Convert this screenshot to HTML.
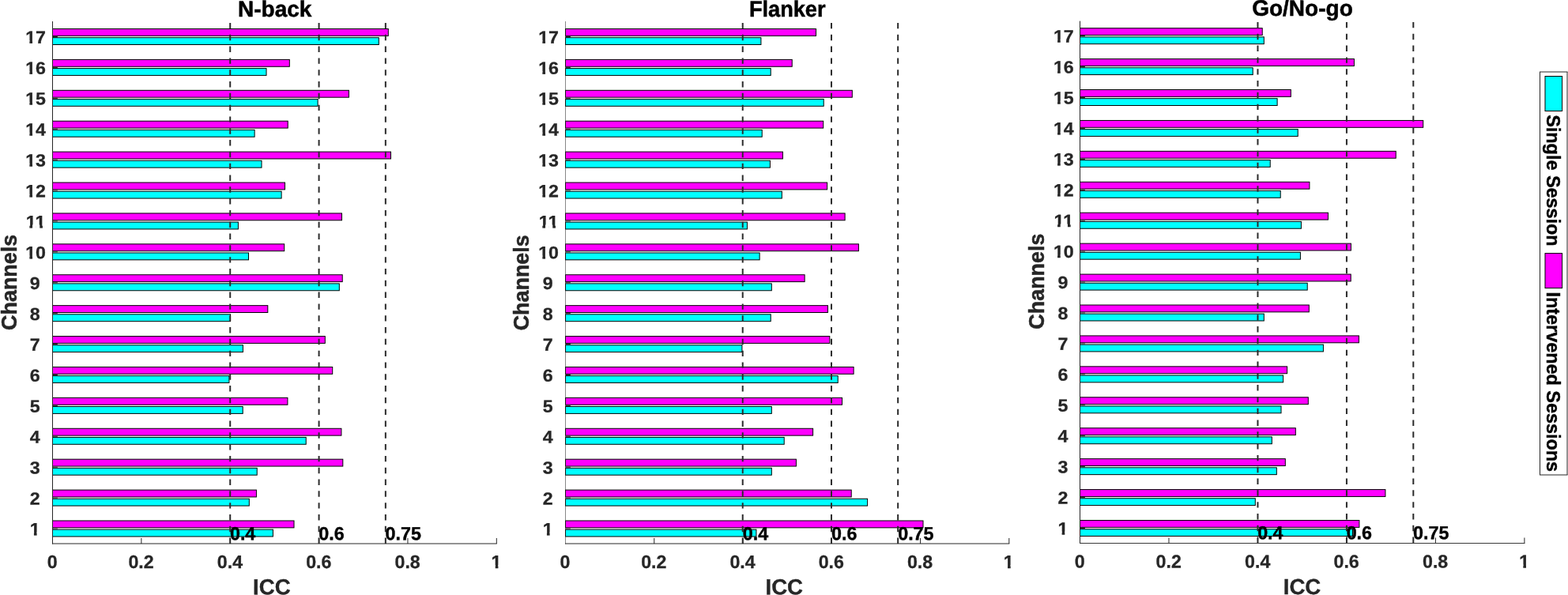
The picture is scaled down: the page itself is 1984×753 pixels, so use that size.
<!DOCTYPE html>
<html lang="en"><head><meta charset="utf-8"><title>ICC by channel</title>
<style>
html,body{margin:0;padding:0;background:#fff;}
body{width:1984px;height:753px;overflow:hidden;}
svg{display:block;}
text{font-family:"Liberation Sans",Arial,Helvetica,sans-serif;font-weight:bold;}
.tk{font-size:23.2px;fill:#262626;stroke:#262626;stroke-width:0.3px;}
.lab{font-size:27.6px;fill:#262626;stroke:#262626;stroke-width:0.35px;}
.yl{stroke-width:0.5px;}
.ttl{font-size:28.2px;fill:#000;stroke:#000;stroke-width:0.5px;}
.ann{font-size:23.3px;fill:#000;stroke:#000;stroke-width:0.4px;}
.leg{font-size:24px;fill:#000;stroke:#000;stroke-width:0.45px;}
.ax{stroke-width:1;fill:none;}
.dl{stroke:#2b2b2b;stroke-width:2;stroke-dasharray:7.4 7.41;fill:none;}
.bm{fill:#ff00ff;stroke:#000;stroke-width:1;}
.bc{fill:#00ffff;stroke:#000;stroke-width:1;}
</style></head><body>
<svg width="1984" height="753" viewBox="0 0 1984 753" role="img" aria-label="ICC per channel for N-back, Flanker and Go/No-go tasks">
<rect x="0" y="0" width="1984" height="753" fill="#fff"/>
<g>
<rect class="bm" x="66.5" y="36.5" width="424.8" height="8.85"/>
<rect class="bc" x="66.5" y="47.65" width="412.8" height="8.85"/>
<rect class="bm" x="66.5" y="75.41" width="299.8" height="8.85"/>
<rect class="bc" x="66.5" y="86.56" width="270.5" height="8.85"/>
<rect class="bm" x="66.5" y="114.32" width="374.9" height="8.85"/>
<rect class="bc" x="66.5" y="125.47" width="335.6" height="8.85"/>
<rect class="bm" x="66.5" y="153.22" width="297.7" height="8.85"/>
<rect class="bc" x="66.5" y="164.37" width="255.6" height="8.85"/>
<rect class="bm" x="66.5" y="192.13" width="428" height="8.85"/>
<rect class="bc" x="66.5" y="203.28" width="264.5" height="8.85"/>
<rect class="bm" x="66.5" y="231.03" width="294" height="8.85"/>
<rect class="bc" x="66.5" y="242.18" width="289.6" height="8.85"/>
<rect class="bm" x="66.5" y="269.94" width="366" height="8.85"/>
<rect class="bc" x="66.5" y="281.09" width="234.9" height="8.85"/>
<rect class="bm" x="66.5" y="308.85" width="293.2" height="8.85"/>
<rect class="bc" x="66.5" y="320" width="248" height="8.85"/>
<rect class="bm" x="66.5" y="347.75" width="366.7" height="8.85"/>
<rect class="bc" x="66.5" y="358.9" width="362.8" height="8.85"/>
<rect class="bm" x="66.5" y="386.66" width="272.3" height="8.85"/>
<rect class="bc" x="66.5" y="397.81" width="225" height="8.85"/>
<rect class="bm" x="66.5" y="425.56" width="344.8" height="8.85"/>
<rect class="bc" x="66.5" y="436.71" width="240.9" height="8.85"/>
<rect class="bm" x="66.5" y="464.47" width="354.2" height="8.85"/>
<rect class="bc" x="66.5" y="475.62" width="223.4" height="8.85"/>
<rect class="bm" x="66.5" y="503.38" width="297.4" height="8.85"/>
<rect class="bc" x="66.5" y="514.53" width="240.7" height="8.85"/>
<rect class="bm" x="66.5" y="542.28" width="365.4" height="8.85"/>
<rect class="bc" x="66.5" y="553.43" width="320.7" height="8.85"/>
<rect class="bm" x="66.5" y="581.19" width="367.3" height="8.85"/>
<rect class="bc" x="66.5" y="592.34" width="258.7" height="8.85"/>
<rect class="bm" x="66.5" y="620.09" width="257.9" height="8.85"/>
<rect class="bc" x="66.5" y="631.24" width="248.8" height="8.85"/>
<rect class="bm" x="66.5" y="659" width="305.5" height="8.85"/>
<rect class="bc" x="66.5" y="670.15" width="278.9" height="8.85"/>
<path class="ax" stroke="#262626" d="M66.5 27V688.5"/>
<path class="ax" stroke="#262626" d="M66 688H628.8"/>
<path class="ax" stroke="#262626" d="M178.86 688v-7M291.22 688v-7M403.58 688v-7M515.94 688v-7M628.3 688v-7M66.5 669h6.4M66.5 630.09h6.4M66.5 591.19h6.4M66.5 552.28h6.4M66.5 513.38h6.4M66.5 474.47h6.4M66.5 435.56h6.4M66.5 396.66h6.4M66.5 357.75h6.4M66.5 318.85h6.4M66.5 279.94h6.4M66.5 241.03h6.4M66.5 202.13h6.4M66.5 163.22h6.4M66.5 124.32h6.4M66.5 85.41h6.4M66.5 46.5h6.4"/>
<path class="dl" d="M291.22 688V27"/>
<path class="dl" d="M403.58 688V27"/>
<path class="dl" d="M487.85 688V27"/>
<text class="ann" transform="translate(290.92 683.3) rotate(0.03)" text-anchor="start">0.4</text>
<text class="ann" transform="translate(403.28 683.3) rotate(0.03)" text-anchor="start">0.6</text>
<text class="ann" transform="translate(487.55 683.3) rotate(0.03)" text-anchor="start">0.75</text>
<text class="tk" transform="translate(66.2 718.9) rotate(0.03)" text-anchor="middle">0</text>
<text class="tk" transform="translate(178.56 718.9) rotate(0.03)" text-anchor="middle">0.2</text>
<text class="tk" transform="translate(290.92 718.9) rotate(0.03)" text-anchor="middle">0.4</text>
<text class="tk" transform="translate(403.28 718.9) rotate(0.03)" text-anchor="middle">0.6</text>
<text class="tk" transform="translate(515.64 718.9) rotate(0.03)" text-anchor="middle">0.8</text>
<text class="tk" transform="translate(628 718.9) rotate(0.03)" text-anchor="middle">1</text>
<path fill="#fff" d="M621.86 715.08H626.72V720.15H621.86ZM630.4 715.08H634.76V720.15H630.4Z"/>
<text class="tk" transform="translate(44.2 677.3) rotate(0.03) scale(1.0 0.95)" text-anchor="middle">1</text>
<path fill="#fff" d="M38.06 673.6H42.92V678.55H38.06ZM46.6 673.6H50.96V678.55H46.6Z"/>
<text class="tk" transform="translate(44.2 638.39) rotate(0.03) scale(1.0 0.95)" text-anchor="middle">2</text>
<text class="tk" transform="translate(44.2 599.49) rotate(0.03) scale(1.0 0.95)" text-anchor="middle">3</text>
<text class="tk" transform="translate(44.2 560.58) rotate(0.03) scale(1.0 0.95)" text-anchor="middle">4</text>
<text class="tk" transform="translate(44.2 521.68) rotate(0.03) scale(1.0 0.95)" text-anchor="middle">5</text>
<text class="tk" transform="translate(44.2 482.77) rotate(0.03) scale(1.0 0.95)" text-anchor="middle">6</text>
<text class="tk" transform="translate(44.2 443.86) rotate(0.03) scale(1.0 0.95)" text-anchor="middle">7</text>
<text class="tk" transform="translate(44.2 404.96) rotate(0.03) scale(1.0 0.95)" text-anchor="middle">8</text>
<text class="tk" transform="translate(44.2 366.05) rotate(0.03) scale(1.0 0.95)" text-anchor="middle">9</text>
<text class="tk" transform="translate(45.1 327.15) rotate(0.03) scale(1.0 0.95)" text-anchor="middle">10</text>
<path fill="#fff" d="M32.51 323.45H37.37V328.4H32.51ZM41.05 323.45H45.41V328.4H41.05Z"/>
<text class="tk" transform="translate(45.1 288.24) rotate(0.03) scale(1.0 0.95)" text-anchor="middle">11</text>
<path fill="#fff" d="M32.51 284.54H37.37V289.49H32.51ZM41.05 284.54H45.41V289.49H41.05Z"/><path fill="#fff" d="M45.41 284.54H50.26V289.49H45.41ZM53.95 284.54H58.31V289.49H53.95Z"/>
<text class="tk" transform="translate(45.1 249.33) rotate(0.03) scale(1.0 0.95)" text-anchor="middle">12</text>
<path fill="#fff" d="M32.51 245.63H37.37V250.58H32.51ZM41.05 245.63H45.41V250.58H41.05Z"/>
<text class="tk" transform="translate(45.1 210.43) rotate(0.03) scale(1.0 0.95)" text-anchor="middle">13</text>
<path fill="#fff" d="M32.51 206.73H37.37V211.68H32.51ZM41.05 206.73H45.41V211.68H41.05Z"/>
<text class="tk" transform="translate(45.1 171.52) rotate(0.03) scale(1.0 0.95)" text-anchor="middle">14</text>
<path fill="#fff" d="M32.51 167.82H37.37V172.77H32.51ZM41.05 167.82H45.41V172.77H41.05Z"/>
<text class="tk" transform="translate(45.1 132.62) rotate(0.03) scale(1.0 0.95)" text-anchor="middle">15</text>
<path fill="#fff" d="M32.51 128.92H37.37V133.87H32.51ZM41.05 128.92H45.41V133.87H41.05Z"/>
<text class="tk" transform="translate(45.1 93.71) rotate(0.03) scale(1.0 0.95)" text-anchor="middle">16</text>
<path fill="#fff" d="M32.51 90.01H37.37V94.96H32.51ZM41.05 90.01H45.41V94.96H41.05Z"/>
<text class="tk" transform="translate(45.1 54.8) rotate(0.03) scale(1.0 0.95)" text-anchor="middle">17</text>
<path fill="#fff" d="M32.51 51.1H37.37V56.05H32.51ZM41.05 51.1H45.41V56.05H41.05Z"/>
<text class="ttl" transform="translate(347.7 21) rotate(0.03) scale(0.995 1.0)" text-anchor="middle">N-back</text>
<text class="lab" transform="translate(343.8 752.3) rotate(0.03)" text-anchor="middle">ICC</text>
<text class="lab yl" transform="translate(20.7 357.4) rotate(-90) scale(0.975 1.0)" text-anchor="middle">Channels</text>
</g>
<g>
<rect class="bm" x="715.5" y="36.5" width="317" height="8.85"/>
<rect class="bc" x="715.5" y="47.65" width="247.4" height="8.85"/>
<rect class="bm" x="715.5" y="75.41" width="286.7" height="8.85"/>
<rect class="bc" x="715.5" y="86.56" width="259.7" height="8.85"/>
<rect class="bm" x="715.5" y="114.32" width="362.8" height="8.85"/>
<rect class="bc" x="715.5" y="125.47" width="326.7" height="8.85"/>
<rect class="bm" x="715.5" y="153.22" width="326.2" height="8.85"/>
<rect class="bc" x="715.5" y="164.37" width="248.7" height="8.85"/>
<rect class="bm" x="715.5" y="192.13" width="274.9" height="8.85"/>
<rect class="bc" x="715.5" y="203.28" width="258.9" height="8.85"/>
<rect class="bm" x="715.5" y="231.03" width="331.1" height="8.85"/>
<rect class="bc" x="715.5" y="242.18" width="273.8" height="8.85"/>
<rect class="bm" x="715.5" y="269.94" width="353.6" height="8.85"/>
<rect class="bc" x="715.5" y="281.09" width="229.9" height="8.85"/>
<rect class="bm" x="715.5" y="308.85" width="370.9" height="8.85"/>
<rect class="bc" x="715.5" y="320" width="245.6" height="8.85"/>
<rect class="bm" x="715.5" y="347.75" width="302.6" height="8.85"/>
<rect class="bc" x="715.5" y="358.9" width="260.8" height="8.85"/>
<rect class="bm" x="715.5" y="386.66" width="331.9" height="8.85"/>
<rect class="bc" x="715.5" y="397.81" width="259.7" height="8.85"/>
<rect class="bm" x="715.5" y="425.56" width="334.3" height="8.85"/>
<rect class="bc" x="715.5" y="436.71" width="223.4" height="8.85"/>
<rect class="bm" x="715.5" y="464.47" width="364.6" height="8.85"/>
<rect class="bc" x="715.5" y="475.62" width="344.7" height="8.85"/>
<rect class="bm" x="715.5" y="503.38" width="350" height="8.85"/>
<rect class="bc" x="715.5" y="514.53" width="260.8" height="8.85"/>
<rect class="bm" x="715.5" y="542.28" width="313.1" height="8.85"/>
<rect class="bc" x="715.5" y="553.43" width="276.7" height="8.85"/>
<rect class="bm" x="715.5" y="581.19" width="291.9" height="8.85"/>
<rect class="bc" x="715.5" y="592.34" width="260.8" height="8.85"/>
<rect class="bm" x="715.5" y="620.09" width="361.7" height="8.85"/>
<rect class="bc" x="715.5" y="631.24" width="382.1" height="8.85"/>
<rect class="bm" x="715.5" y="659" width="452.5" height="8.85"/>
<rect class="bc" x="715.5" y="670.15" width="241.4" height="8.85"/>
<path class="ax" stroke="#262626" stroke-opacity="0.55" d="M715.5 27V688.5"/>
<path class="ax" stroke="#262626" d="M715 688H1277.3"/>
<path class="ax" stroke="#262626" d="M827.76 688v-7M940.02 688v-7M1052.28 688v-7M1164.54 688v-7M1276.8 688v-7M715.5 669h6.4M715.5 630.09h6.4M715.5 591.19h6.4M715.5 552.28h6.4M715.5 513.38h6.4M715.5 474.47h6.4M715.5 435.56h6.4M715.5 396.66h6.4M715.5 357.75h6.4M715.5 318.85h6.4M715.5 279.94h6.4M715.5 241.03h6.4M715.5 202.13h6.4M715.5 163.22h6.4M715.5 124.32h6.4M715.5 85.41h6.4M715.5 46.5h6.4"/>
<path class="dl" d="M939.72 688V27"/>
<path class="dl" d="M1051.98 688V27"/>
<path class="dl" d="M1136.17 688V27"/>
<text class="ann" transform="translate(939.72 683.3) rotate(0.03)" text-anchor="start">0.4</text>
<text class="ann" transform="translate(1051.98 683.3) rotate(0.03)" text-anchor="start">0.6</text>
<text class="ann" transform="translate(1136.17 683.3) rotate(0.03)" text-anchor="start">0.75</text>
<text class="tk" transform="translate(715 718.9) rotate(0.03)" text-anchor="middle">0</text>
<text class="tk" transform="translate(827.26 718.9) rotate(0.03)" text-anchor="middle">0.2</text>
<text class="tk" transform="translate(939.52 718.9) rotate(0.03)" text-anchor="middle">0.4</text>
<text class="tk" transform="translate(1051.78 718.9) rotate(0.03)" text-anchor="middle">0.6</text>
<text class="tk" transform="translate(1164.04 718.9) rotate(0.03)" text-anchor="middle">0.8</text>
<text class="tk" transform="translate(1276.3 718.9) rotate(0.03)" text-anchor="middle">1</text>
<path fill="#fff" d="M1270.16 715.08H1275.02V720.15H1270.16ZM1278.7 715.08H1283.06V720.15H1278.7Z"/>
<text class="tk" transform="translate(693.2 677.3) rotate(0.03) scale(1.0 0.95)" text-anchor="middle">1</text>
<path fill="#fff" d="M687.06 673.6H691.92V678.55H687.06ZM695.6 673.6H699.96V678.55H695.6Z"/>
<text class="tk" transform="translate(693.2 638.39) rotate(0.03) scale(1.0 0.95)" text-anchor="middle">2</text>
<text class="tk" transform="translate(693.2 599.49) rotate(0.03) scale(1.0 0.95)" text-anchor="middle">3</text>
<text class="tk" transform="translate(693.2 560.58) rotate(0.03) scale(1.0 0.95)" text-anchor="middle">4</text>
<text class="tk" transform="translate(693.2 521.68) rotate(0.03) scale(1.0 0.95)" text-anchor="middle">5</text>
<text class="tk" transform="translate(693.2 482.77) rotate(0.03) scale(1.0 0.95)" text-anchor="middle">6</text>
<text class="tk" transform="translate(693.2 443.86) rotate(0.03) scale(1.0 0.95)" text-anchor="middle">7</text>
<text class="tk" transform="translate(693.2 404.96) rotate(0.03) scale(1.0 0.95)" text-anchor="middle">8</text>
<text class="tk" transform="translate(693.2 366.05) rotate(0.03) scale(1.0 0.95)" text-anchor="middle">9</text>
<text class="tk" transform="translate(694.1 327.15) rotate(0.03) scale(1.0 0.95)" text-anchor="middle">10</text>
<path fill="#fff" d="M681.51 323.45H686.37V328.4H681.51ZM690.05 323.45H694.41V328.4H690.05Z"/>
<text class="tk" transform="translate(694.1 288.24) rotate(0.03) scale(1.0 0.95)" text-anchor="middle">11</text>
<path fill="#fff" d="M681.51 284.54H686.37V289.49H681.51ZM690.05 284.54H694.41V289.49H690.05Z"/><path fill="#fff" d="M694.41 284.54H699.26V289.49H694.41ZM702.95 284.54H707.31V289.49H702.95Z"/>
<text class="tk" transform="translate(694.1 249.33) rotate(0.03) scale(1.0 0.95)" text-anchor="middle">12</text>
<path fill="#fff" d="M681.51 245.63H686.37V250.58H681.51ZM690.05 245.63H694.41V250.58H690.05Z"/>
<text class="tk" transform="translate(694.1 210.43) rotate(0.03) scale(1.0 0.95)" text-anchor="middle">13</text>
<path fill="#fff" d="M681.51 206.73H686.37V211.68H681.51ZM690.05 206.73H694.41V211.68H690.05Z"/>
<text class="tk" transform="translate(694.1 171.52) rotate(0.03) scale(1.0 0.95)" text-anchor="middle">14</text>
<path fill="#fff" d="M681.51 167.82H686.37V172.77H681.51ZM690.05 167.82H694.41V172.77H690.05Z"/>
<text class="tk" transform="translate(694.1 132.62) rotate(0.03) scale(1.0 0.95)" text-anchor="middle">15</text>
<path fill="#fff" d="M681.51 128.92H686.37V133.87H681.51ZM690.05 128.92H694.41V133.87H690.05Z"/>
<text class="tk" transform="translate(694.1 93.71) rotate(0.03) scale(1.0 0.95)" text-anchor="middle">16</text>
<path fill="#fff" d="M681.51 90.01H686.37V94.96H681.51ZM690.05 90.01H694.41V94.96H690.05Z"/>
<text class="tk" transform="translate(694.1 54.8) rotate(0.03) scale(1.0 0.95)" text-anchor="middle">17</text>
<path fill="#fff" d="M681.51 51.1H686.37V56.05H681.51ZM690.05 51.1H694.41V56.05H690.05Z"/>
<text class="ttl" transform="translate(996.25 21) rotate(0.03) scale(0.963 1.0)" text-anchor="middle">Flanker</text>
<text class="lab" transform="translate(992.25 752.3) rotate(0.03)" text-anchor="middle">ICC</text>
<text class="lab yl" transform="translate(668.9 357.8) rotate(-90) scale(0.975 1.0)" text-anchor="middle">Channels</text>
</g>
<g>
<rect class="bm" x="1366.5" y="35.65" width="230.7" height="8.85"/>
<rect class="bc" x="1366.5" y="46.8" width="232.8" height="8.85"/>
<rect class="bm" x="1366.5" y="74.58" width="346.9" height="8.85"/>
<rect class="bc" x="1366.5" y="85.73" width="218.7" height="8.85"/>
<rect class="bm" x="1366.5" y="113.51" width="266.8" height="8.85"/>
<rect class="bc" x="1366.5" y="124.66" width="249.6" height="8.85"/>
<rect class="bm" x="1366.5" y="152.44" width="434.2" height="8.85"/>
<rect class="bc" x="1366.5" y="163.59" width="275.7" height="8.85"/>
<rect class="bm" x="1366.5" y="191.36" width="399.7" height="8.85"/>
<rect class="bc" x="1366.5" y="202.51" width="240.7" height="8.85"/>
<rect class="bm" x="1366.5" y="230.29" width="290.4" height="8.85"/>
<rect class="bc" x="1366.5" y="241.44" width="253.7" height="8.85"/>
<rect class="bm" x="1366.5" y="269.22" width="313.9" height="8.85"/>
<rect class="bc" x="1366.5" y="280.37" width="279.9" height="8.85"/>
<rect class="bm" x="1366.5" y="308.15" width="342.9" height="8.85"/>
<rect class="bc" x="1366.5" y="319.3" width="278.9" height="8.85"/>
<rect class="bm" x="1366.5" y="347.08" width="342.7" height="8.85"/>
<rect class="bc" x="1366.5" y="358.23" width="287.7" height="8.85"/>
<rect class="bm" x="1366.5" y="386" width="289.8" height="8.85"/>
<rect class="bc" x="1366.5" y="397.15" width="232.8" height="8.85"/>
<rect class="bm" x="1366.5" y="424.93" width="352.9" height="8.85"/>
<rect class="bc" x="1366.5" y="436.08" width="307.9" height="8.85"/>
<rect class="bm" x="1366.5" y="463.86" width="262.1" height="8.85"/>
<rect class="bc" x="1366.5" y="475.01" width="257.1" height="8.85"/>
<rect class="bm" x="1366.5" y="502.79" width="288.8" height="8.85"/>
<rect class="bc" x="1366.5" y="513.94" width="254.5" height="8.85"/>
<rect class="bm" x="1366.5" y="541.72" width="272.8" height="8.85"/>
<rect class="bc" x="1366.5" y="552.87" width="242.8" height="8.85"/>
<rect class="bm" x="1366.5" y="580.64" width="259.8" height="8.85"/>
<rect class="bc" x="1366.5" y="591.79" width="248.8" height="8.85"/>
<rect class="bm" x="1366.5" y="619.57" width="386.4" height="8.85"/>
<rect class="bc" x="1366.5" y="630.72" width="221.8" height="8.85"/>
<rect class="bm" x="1366.5" y="658.5" width="353.4" height="8.85"/>
<rect class="bc" x="1366.5" y="669.65" width="345" height="8.85"/>
<path class="ax" stroke="#262626" d="M1366.5 26.6V688"/>
<path class="ax" stroke="#3a3a3a" d="M1366 687.5H1929.4"/>
<path class="ax" stroke="#262626" d="M1478.98 687.5v-7M1591.46 687.5v-7M1703.94 687.5v-7M1816.42 687.5v-7M1928.9 687.5v-7M1366.5 668.5h6.4M1366.5 629.57h6.4M1366.5 590.64h6.4M1366.5 551.72h6.4M1366.5 512.79h6.4M1366.5 473.86h6.4M1366.5 434.93h6.4M1366.5 396h6.4M1366.5 357.08h6.4M1366.5 318.15h6.4M1366.5 279.22h6.4M1366.5 240.29h6.4M1366.5 201.36h6.4M1366.5 162.44h6.4M1366.5 123.51h6.4M1366.5 84.58h6.4M1366.5 45.65h6.4"/>
<path class="dl" d="M1591.46 687V26.6"/>
<path class="dl" d="M1703.94 687V26.6"/>
<path class="dl" d="M1788.3 687V26.6"/>
<text class="ann" transform="translate(1591.16 682.2) rotate(0.03)" text-anchor="start">0.4</text>
<text class="ann" transform="translate(1703.64 682.2) rotate(0.03)" text-anchor="start">0.6</text>
<text class="ann" transform="translate(1788 682.2) rotate(0.03)" text-anchor="start">0.75</text>
<text class="tk" transform="translate(1366.2 718.4) rotate(0.03)" text-anchor="middle">0</text>
<text class="tk" transform="translate(1478.68 718.4) rotate(0.03)" text-anchor="middle">0.2</text>
<text class="tk" transform="translate(1591.16 718.4) rotate(0.03)" text-anchor="middle">0.4</text>
<text class="tk" transform="translate(1703.64 718.4) rotate(0.03)" text-anchor="middle">0.6</text>
<text class="tk" transform="translate(1816.12 718.4) rotate(0.03)" text-anchor="middle">0.8</text>
<text class="tk" transform="translate(1928.6 718.4) rotate(0.03)" text-anchor="middle">1</text>
<path fill="#fff" d="M1922.46 714.58H1927.32V719.65H1922.46ZM1931 714.58H1935.36V719.65H1931Z"/>
<text class="tk" transform="translate(1344.9 676.4) rotate(0.03) scale(1.0 0.95)" text-anchor="middle">1</text>
<path fill="#fff" d="M1338.76 672.7H1343.62V677.65H1338.76ZM1347.3 672.7H1351.66V677.65H1347.3Z"/>
<text class="tk" transform="translate(1344.9 637.47) rotate(0.03) scale(1.0 0.95)" text-anchor="middle">2</text>
<text class="tk" transform="translate(1344.9 598.54) rotate(0.03) scale(1.0 0.95)" text-anchor="middle">3</text>
<text class="tk" transform="translate(1344.9 559.62) rotate(0.03) scale(1.0 0.95)" text-anchor="middle">4</text>
<text class="tk" transform="translate(1344.9 520.69) rotate(0.03) scale(1.0 0.95)" text-anchor="middle">5</text>
<text class="tk" transform="translate(1344.9 481.76) rotate(0.03) scale(1.0 0.95)" text-anchor="middle">6</text>
<text class="tk" transform="translate(1344.9 442.83) rotate(0.03) scale(1.0 0.95)" text-anchor="middle">7</text>
<text class="tk" transform="translate(1344.9 403.9) rotate(0.03) scale(1.0 0.95)" text-anchor="middle">8</text>
<text class="tk" transform="translate(1344.9 364.98) rotate(0.03) scale(1.0 0.95)" text-anchor="middle">9</text>
<text class="tk" transform="translate(1345.8 326.05) rotate(0.03) scale(1.0 0.95)" text-anchor="middle">10</text>
<path fill="#fff" d="M1333.21 322.35H1338.07V327.3H1333.21ZM1341.75 322.35H1346.11V327.3H1341.75Z"/>
<text class="tk" transform="translate(1345.8 287.12) rotate(0.03) scale(1.0 0.95)" text-anchor="middle">11</text>
<path fill="#fff" d="M1333.21 283.42H1338.07V288.37H1333.21ZM1341.75 283.42H1346.11V288.37H1341.75Z"/><path fill="#fff" d="M1346.11 283.42H1350.96V288.37H1346.11ZM1354.65 283.42H1359.01V288.37H1354.65Z"/>
<text class="tk" transform="translate(1345.8 248.19) rotate(0.03) scale(1.0 0.95)" text-anchor="middle">12</text>
<path fill="#fff" d="M1333.21 244.49H1338.07V249.44H1333.21ZM1341.75 244.49H1346.11V249.44H1341.75Z"/>
<text class="tk" transform="translate(1345.8 209.26) rotate(0.03) scale(1.0 0.95)" text-anchor="middle">13</text>
<path fill="#fff" d="M1333.21 205.56H1338.07V210.51H1333.21ZM1341.75 205.56H1346.11V210.51H1341.75Z"/>
<text class="tk" transform="translate(1345.8 170.34) rotate(0.03) scale(1.0 0.95)" text-anchor="middle">14</text>
<path fill="#fff" d="M1333.21 166.64H1338.07V171.59H1333.21ZM1341.75 166.64H1346.11V171.59H1341.75Z"/>
<text class="tk" transform="translate(1345.8 131.41) rotate(0.03) scale(1.0 0.95)" text-anchor="middle">15</text>
<path fill="#fff" d="M1333.21 127.71H1338.07V132.66H1333.21ZM1341.75 127.71H1346.11V132.66H1341.75Z"/>
<text class="tk" transform="translate(1345.8 92.48) rotate(0.03) scale(1.0 0.95)" text-anchor="middle">16</text>
<path fill="#fff" d="M1333.21 88.78H1338.07V93.73H1333.21ZM1341.75 88.78H1346.11V93.73H1341.75Z"/>
<text class="tk" transform="translate(1345.8 53.55) rotate(0.03) scale(1.0 0.95)" text-anchor="middle">17</text>
<path fill="#fff" d="M1333.21 49.85H1338.07V54.8H1333.21ZM1341.75 49.85H1346.11V54.8H1341.75Z"/>
<text class="ttl" transform="translate(1648 19.9) rotate(0.03) scale(0.995 1.0)" text-anchor="middle">Go/No-go</text>
<text class="lab" transform="translate(1647.5 752.1) rotate(0.03)" text-anchor="middle">ICC</text>
<text class="lab yl" transform="translate(1321.4 356.15) rotate(-90) scale(0.975 1.0)" text-anchor="middle">Channels</text>
</g>
<g>
<path d="M1948.5 91V601M1983 91V601M1948 91H1983.5M1948 601H1983.5" fill="none" stroke="#262626" stroke-width="1"/>
<rect x="1955" y="96.5" width="21.6" height="44.0" fill="#00ffff" stroke="#000" stroke-width="1"/>
<rect x="1955" y="320.6" width="21.6" height="44.0" fill="#ff00ff" stroke="#000" stroke-width="1"/>
<text class="leg" transform="translate(1956.9 145.2) rotate(90) scale(0.975 0.96)" text-anchor="start">Single Session</text>
<text class="leg" transform="translate(1956.9 369.5) rotate(90) scale(0.975 0.96)" text-anchor="start">Intervened Sessions</text>
</g>
</svg>
</body></html>
